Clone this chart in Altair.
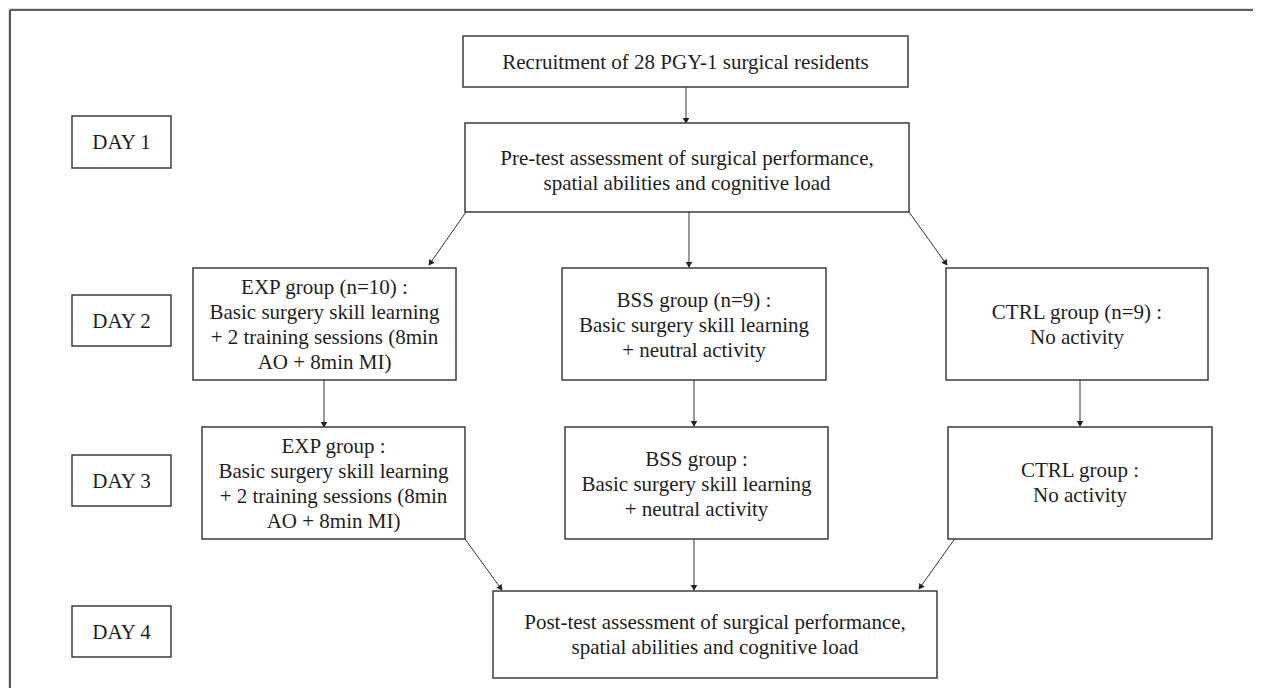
import math
import altair as alt
import pandas as pd

# ---- data -------------------------------------------------------------
day_labels = ["DAY 1", "DAY 2", "DAY 3", "DAY 4"]
day_y0 = [116, 295, 455, 606]
day_y1 = [168, 346, 506, 657]
day_x0 = [72, 72, 72, 72]
day_x1 = [171, 171, 171, 171]

box_text = [
    "Recruitment of 28 PGY-1 surgical residents",
    "Pre-test assessment of surgical performance,\nspatial abilities and cognitive load",
    "EXP group (n=10) :\nBasic surgery skill learning\n+ 2 training sessions (8min\nAO + 8min MI)",
    "BSS group (n=9) :\nBasic surgery skill learning\n+ neutral activity",
    "CTRL group (n=9) :\nNo activity",
    "EXP group :\nBasic surgery skill learning\n+ 2 training sessions (8min\nAO + 8min MI)",
    "BSS group :\nBasic surgery skill learning\n+ neutral activity",
    "CTRL group :\nNo activity",
    "Post-test assessment of surgical performance,\nspatial abilities and cognitive load",
]
box_x0 = [463, 465, 193, 562, 946, 202, 565, 948, 493]
box_x1 = [908, 909, 456, 826, 1208, 465, 828, 1212, 937]
box_y0 = [36, 123, 268, 268, 268, 427, 427, 427, 591]
box_y1 = [87, 212, 380, 380, 380, 539, 539, 539, 678]
text_dy = [1, 4, 1, 2, 1, 1, 2, 0, 1]

arrow_x0 = [686, 466, 689, 909, 324, 694, 1080, 465, 694, 956]
arrow_y0 = [87, 212, 212, 212, 380, 378, 380, 539, 539, 537]
arrow_x1 = [686, 429, 689, 947, 324, 694, 1080, 502, 694, 919]
arrow_y1 = [123, 265, 267, 265, 427, 426, 426, 590, 590, 589]

frame_x0 = [10, 10]
frame_y0 = [10, 10]
frame_x1 = [1253, 10]
frame_y1 = [10, 688]

LINE_H = 25

# ---- tables -----------------------------------------------------------
boxes = pd.DataFrame({
    "x0": box_x0 + day_x0, "x1": box_x1 + day_x1,
    "y0": box_y0 + day_y0, "y1": box_y1 + day_y1,
    "label": box_text + day_labels,
    "dy": text_dy + [1] * len(day_labels),
})
boxes["n"] = boxes["label"].str.count("\n")
boxes["cx"] = (boxes["x0"] + boxes["x1"]) / 2
boxes["cy"] = (boxes["y0"] + boxes["y1"]) / 2 + boxes["dy"] - boxes["n"] * LINE_H / 2

arrows = pd.DataFrame({"x0": arrow_x0, "y0": arrow_y0, "x1": arrow_x1, "y1": arrow_y1})
heads = []
for r in arrows.itertuples():
    dx, dy = r.x1 - r.x0, r.y1 - r.y0
    L = math.hypot(dx, dy)
    ux, uy = dx / L, dy / L
    ang = (math.degrees(math.atan2(dx, -dy)) + 360) % 360
    heads.append({"hx": r.x1 - ux * 3.2, "hy": r.y1 - uy * 3.2, "ang": ang})
heads = pd.DataFrame(heads)

frame = pd.DataFrame({"x0": frame_x0, "y0": frame_y0, "x1": frame_x1, "y1": frame_y1})

W, H = 1245, 680
xs = alt.Scale(domain=[8, 8 + W], nice=False, zero=False)
ys = alt.Scale(domain=[8, 8 + H], nice=False, zero=False, reverse=True)

def X(f):
    return alt.X(f, type="quantitative", scale=xs, axis=None)

def Y(f):
    return alt.Y(f, type="quantitative", scale=ys, axis=None)

frame_layer = alt.Chart(frame).mark_rule(color="#2a2a2a", strokeWidth=1.6).encode(
    x=X("x0"), y=Y("y0"), x2="x1", y2="y1")

arrow_layer = alt.Chart(arrows).mark_rule(color="#333333", strokeWidth=1).encode(
    x=X("x0"), y=Y("y0"), x2="x1", y2="y1")

head_layer = alt.Chart(heads).mark_point(
    shape="triangle", filled=True, color="#222222", size=44, opacity=1, strokeWidth=0
).encode(x=X("hx"), y=Y("hy"), angle=alt.Angle("ang", type="quantitative", scale=None))

box_layer = alt.Chart(boxes).mark_rect(
    fill="white", stroke="#3c3c3c", strokeWidth=1.5
).encode(x=X("x0"), y=Y("y0"), x2="x1", y2="y1")

text_layer = alt.Chart(boxes).mark_text(
    font="Liberation Serif", fontSize=21, color="#1e1e1e",
    align="center", baseline="middle", lineBreak="\n", lineHeight=LINE_H
).encode(x=X("cx"), y=Y("cy"), text="label:N")

chart = alt.layer(frame_layer, arrow_layer, head_layer, box_layer, text_layer).properties(
    width=W, height=H, padding=0, autosize=alt.AutoSizeParams(type="none")
).configure_view(stroke=None).configure(background="white")

chart.save("out.html", embed_options={"renderer": "svg", "actions": False})
